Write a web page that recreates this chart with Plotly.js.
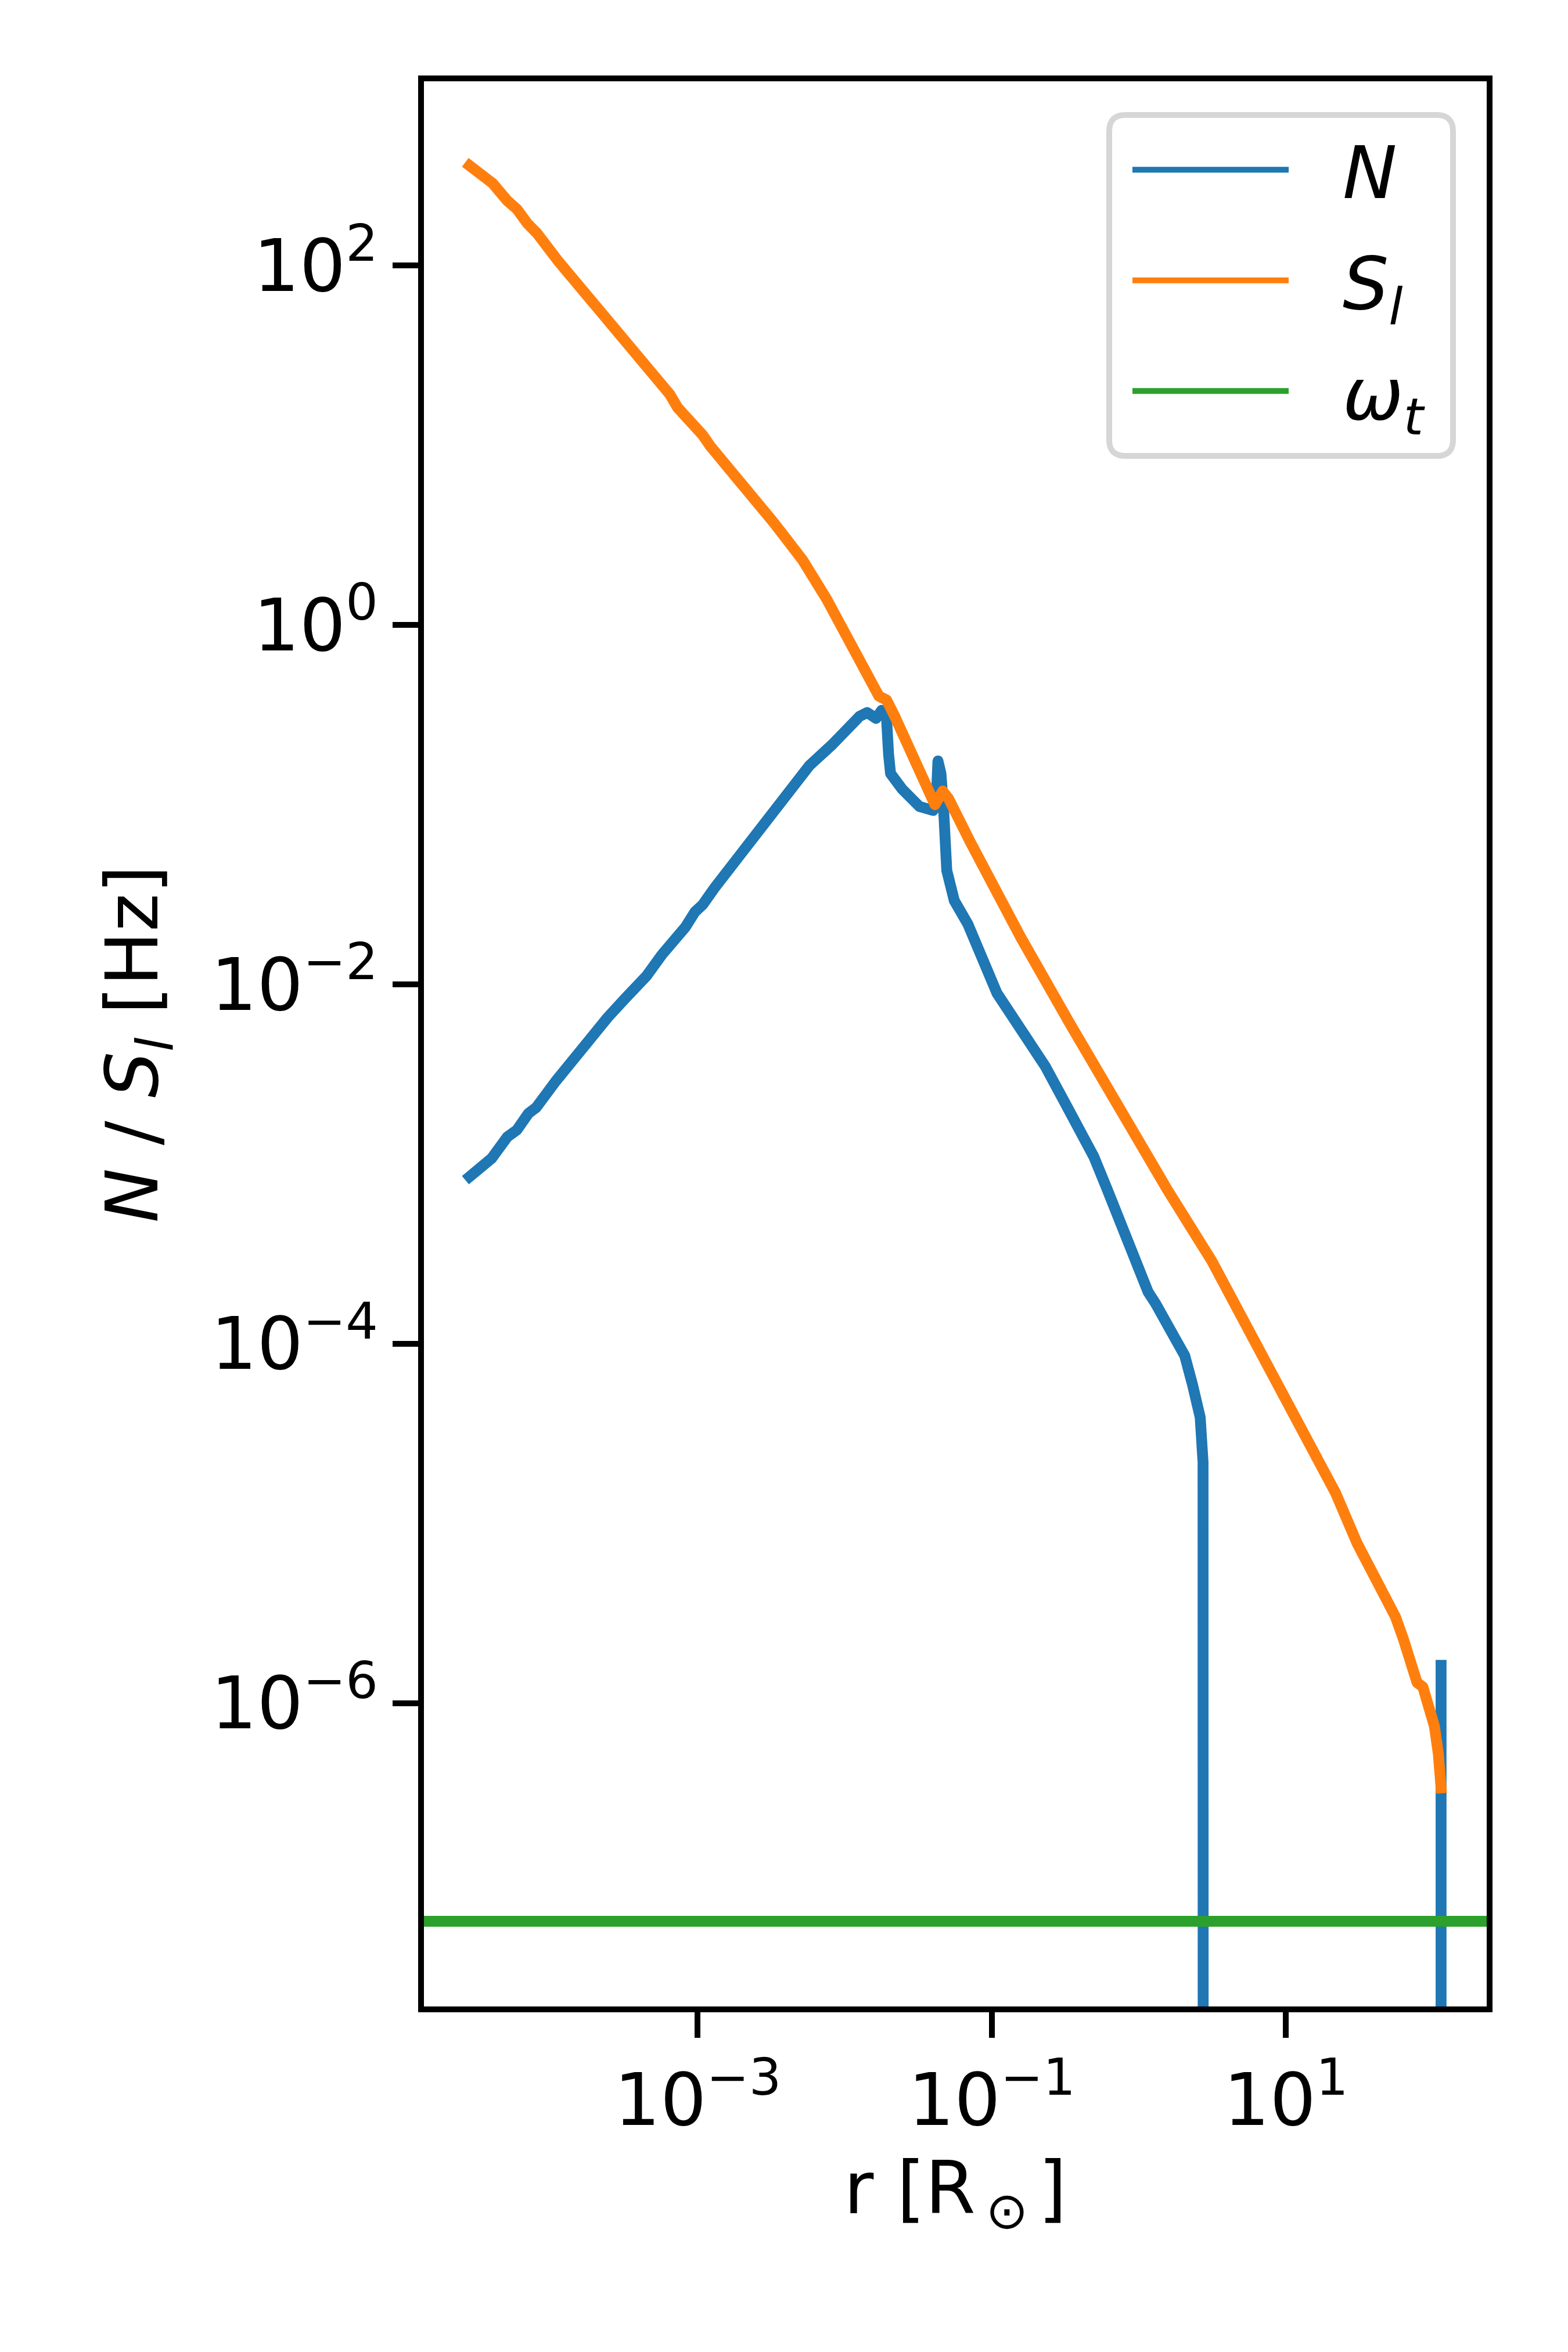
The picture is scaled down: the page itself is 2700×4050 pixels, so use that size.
<!DOCTYPE html>
<html>
<head>
<meta charset="utf-8">
<script src="https://cdn.plot.ly/plotly-3.0.1.min.js"></script>
<style>
html, body { margin: 0; padding: 0; background: #ffffff; }
#chart { width: 2700px; height: 4050px; }
.scatterlayer path.js-line { stroke-linejoin: round; stroke-linecap: square; }
</style>
</head>
<body>
<div id="chart"></div>
<script>
// Radius [R_sun] and Brunt-Vaisala frequency N [Hz]
const rN = [2.81e-5, 3.972e-5, 5.061e-5, 5.895e-5, 7.063e-5, 7.98e-5, 1.081e-4, 1.509e-4, 1.808e-4, 2.447e-4,
  3.215e-4, 4.487e-4, 5.717e-4, 7.30e-4, 8.23e-4, 9.58e-4, 1.081e-3, 1.298e-3, 1.758e-3, 2.308e-3,
  3.314e-3, 4.23e-3, 5.73e-3, 8.23e-3, 1.050e-2, 1.259e-2, 1.422e-2, 1.631e-2, 1.786e-2, 1.926e-2,
  1.986e-2, 2.048e-2, 2.454e-2, 3.222e-2, 3.99e-2, 4.173e-2, 4.303e-2, 4.509e-2, 4.715e-2, 4.941e-2,
  5.557e-2, 6.884e-2, 0.1083, 0.1709, 0.2313, 0.3126, 0.4942, 0.6106, 0.8266, 1.053,
  1.154, 1.301, 1.563, 1.816, 2.052, 2.313, 2.535, 2.614, 2.733, 2.759,
  2.773, 113.6, 113.6];
// N <= 0 beyond ~2.8 R_sun: matplotlib clips it below the log axis (1e-30 stands for that)
const N = [8.5e-4, 1.075e-3, 1.412e-3, 1.546e-3, 1.913e-3, 2.063e-3, 2.883e-3, 4.09e-3, 4.69e-3, 6.55e-3,
  8.35e-3, 1.113e-2, 1.463e-2, 1.811e-2, 2.077e-2, 2.531e-2, 2.771e-2, 3.43e-2, 4.71e-2, 6.50e-2,
  9.06e-2, 0.119, 0.1644, 0.216, 0.2634, 0.3095, 0.3253, 0.3018, 0.335, 0.2984,
  0.191, 0.1491, 0.1221, 0.0976, 0.0929, 0.0976, 0.175, 0.1491, 0.0906, 0.043,
  0.02924, 0.02158, 8.94e-3, 5.17e-3, 3.49e-3, 2.21e-3, 1.098e-3, 7.19e-4, 3.92e-4, 2.264e-4,
  1.945e-4, 1.671e-4, 1.311e-4, 1.029e-4, 8.57e-5, 5.95e-5, 4.67e-5, 3.89e-5, 2.184e-5, 6.15e-6,
  1e-30, 1e-30, 1.62e-6];

// Radius [R_sun] and Lamb frequency S_l [Hz]
const rS = [2.81e-5, 4.03e-5, 5.06e-5, 5.90e-5, 6.97e-5, 8.09e-5, 1.114e-4, 1.376e-4, 1.753e-4, 2.374e-4,
  3.118e-4, 3.972e-4, 5.071e-4, 6.459e-4, 7.30e-4, 8.48e-4, 9.58e-4, 1.081e-3, 1.221e-3, 1.563e-3,
  2.442e-3, 3.237e-3, 3.816e-3, 5.18e-3, 7.54e-3, 1.019e-2, 1.338e-2, 1.705e-2, 1.926e-2, 2.172e-2,
  2.772e-2, 3.532e-2, 4.106e-2, 4.638e-2, 5.083e-2, 7.10e-2, 9.04e-2, 0.1559, 0.3331, 0.6884,
  1.563, 3.132, 5.743, 11.9, 21.8, 30.5, 36.4, 52.6, 55.6, 63.1,
  78.0, 85.4, 102.4, 108.8, 113.6];
const S = [360, 287, 230, 206, 171, 151, 107, 87.4, 68.2, 49.4,
  38.5, 30.8, 24.7, 19.2, 16.2, 14.3, 12.6, 11.4, 9.86, 7.83,
  4.93, 3.77, 3.17, 2.29, 1.39, 0.846, 0.582, 0.402, 0.382, 0.314,
  0.200, 0.132, 0.100, 0.119, 0.108, 0.0625, 0.0430, 0.0185, 6.21e-3, 2.21e-3,
  7.19e-4, 2.89e-4, 1.162e-4, 3.89e-5, 1.474e-5, 7.75e-6, 5.92e-6, 3.16e-6, 3.02e-6, 2.26e-6,
  1.30e-6, 1.23e-6, 7.42e-7, 5.23e-7, 3.37e-7];

// Tidal forcing frequency (horizontal line across the axes)
const omegaT = 6.1e-8;

const seriesNames = ['<i>N</i>', '<i>S</i><sub><i>l</i></sub>', '<i>ω</i><sub><i>t</i></sub>'];
const seriesColors = ['#1f77b4', '#ff7f0e', '#2ca02c'];

const xTickVals = [1e-3, 1e-1, 1e1];
const xTickText = ['10<sup>−3</sup>', '10<sup>−1</sup>', '10<sup>1</sup>'];
const yTickVals = [1e2, 1e0, 1e-2, 1e-4, 1e-6];
const yTickText = ['10<sup>2</sup>', '10<sup>0</sup>', '10<sup>−2</sup>', '10<sup>−4</sup>', '10<sup>−6</sup>'];

const xRangeLog = [-4.8618, 2.3657];
const yRangeLog = [-7.6887, 3.0255];

const FONT = 'DejaVu Sans, sans-serif';
const LW = 18.75;

const traces = [
  { x: rN, y: N, name: seriesNames[0], legendgroup: 'n', mode: 'lines', line: { color: seriesColors[0], width: LW } },
  { x: rS, y: S, name: seriesNames[1], legendgroup: 's', mode: 'lines', line: { color: seriesColors[1], width: LW } },
  { x: xRangeLog.map(v => Math.pow(10, v)), y: [omegaT, omegaT], name: seriesNames[2], legendgroup: 'w', mode: 'lines',
    line: { color: seriesColors[2], width: LW } }
];

const axisCommon = {
  type: 'log',
  showline: true, linecolor: '#000000', linewidth: 10, mirror: true,
  ticks: 'outside', ticklen: 44, tickwidth: 10, tickcolor: '#000000',
  showgrid: false, zeroline: false,
  tickfont: { family: FONT, size: 125, color: '#000000' },
  tickmode: 'array'
};

// legend frame (rounded box, matplotlib style) in paper coordinates
const fx0 = 0.6448, fx1 = 0.9683, fy0 = 0.8054, fy1 = 0.9825, rx = 0.0153, ry = 0.00845;
const framePath = 'M' + (fx0 + rx) + ',' + fy1 + ' L' + (fx1 - rx) + ',' + fy1 +
  ' Q' + fx1 + ',' + fy1 + ' ' + fx1 + ',' + (fy1 - ry) +
  ' L' + fx1 + ',' + (fy0 + ry) + ' Q' + fx1 + ',' + fy0 + ' ' + (fx1 - rx) + ',' + fy0 +
  ' L' + (fx0 + rx) + ',' + fy0 + ' Q' + fx0 + ',' + fy0 + ' ' + fx0 + ',' + (fy0 + ry) +
  ' L' + fx0 + ',' + (fy1 - ry) + ' Q' + fx0 + ',' + fy1 + ' ' + (fx0 + rx) + ',' + fy1 + ' Z';

const layout = {
  width: 2700, height: 4050,
  margin: { l: 730, r: 140, t: 140, b: 595, pad: 0 },
  paper_bgcolor: '#ffffff', plot_bgcolor: '#ffffff',
  font: { family: FONT, size: 125, color: '#000000' },
  showlegend: true,
  xaxis: Object.assign({}, axisCommon, {
    range: xRangeLog, tickvals: xTickVals, ticktext: xTickText,
    title: { text: 'r [R<sub>\u2009⊙\u2009</sub>]', font: { family: FONT, size: 125, color: '#000000' }, standoff: 40 }
  }),
  yaxis: Object.assign({}, axisCommon, {
    range: yRangeLog, tickvals: yTickVals, ticktext: yTickText,
    title: { text: '<i>N</i> / <i>S</i><sub><i>l</i></sub> [Hz]', font: { family: FONT, size: 125, color: '#000000' }, standoff: 53 }
  }),
  shapes: [{
    type: 'path', xref: 'paper', yref: 'paper', layer: 'above', path: framePath,
    line: { color: '#d6d6d6', width: 10 }, fillcolor: '#ffffff'
  }],
  legend: {
    x: 0.66393, xanchor: 'left', y: 0.98051, yanchor: 'top',
    bgcolor: 'rgba(0,0,0,0)', borderwidth: 0,
    font: { family: FONT, size: 125, color: '#000000' },
    itemwidth: 357, tracegroupgap: 25
  }
};

Plotly.newPlot('chart', traces, layout, { staticPlot: true, displayModeBar: false }).then(function () {
  document.querySelectorAll('.legend .legendlines path').forEach(function (p) {
    p.setAttribute('d', 'M5,0h269');
  });
});
</script>
</body>
</html>
